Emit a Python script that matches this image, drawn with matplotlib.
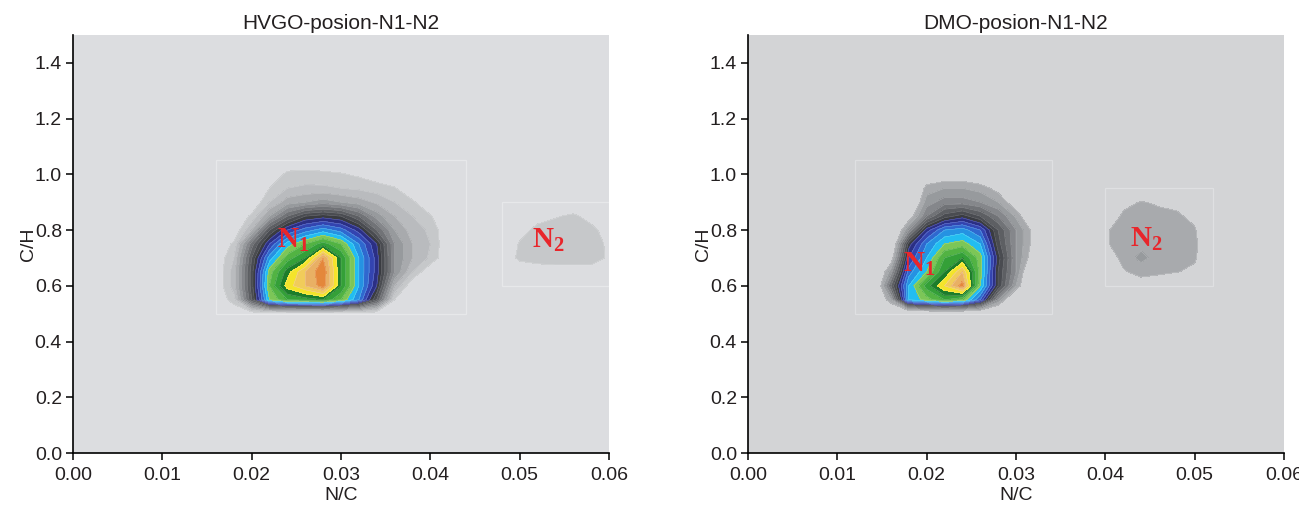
import numpy as np
import matplotlib.pyplot as plt
from matplotlib.patches import Rectangle

plt.rcParams['font.family'] = ['Liberation Sans', 'DejaVu Sans']
plt.rcParams['mathtext.fontset'] = 'custom'
plt.rcParams['mathtext.bf'] = 'Liberation Serif:bold'
plt.rcParams['mathtext.rm'] = 'Liberation Serif:bold'

# contour levels and the colour of each band (grey -> blue -> green -> yellow -> orange)
contour_levels = [1, 2, 3, 4, 5, 6, 7, 8, 9, 10, 11, 12, 13, 14, 15, 16, 17, 18, 19, 20, 21, 22, 23]
band_colors = ['#c6c8ca', '#b9bbbe', '#a8aaad', '#979a9d', '#85878b', '#717377',
               '#5d5f63', '#4a4c51', '#3a3c41', '#2b2f85', '#3344b0', '#2f68cf',
               '#2592e2', '#22bdf0', '#7cc657', '#52b343', '#34a038', '#1c7d2a',
               '#f4e42a', '#f1cc5a', '#e9b064', '#e4873b']

# ---- HVGO, N1 group
hvgo_n1_nc = [0.016, 0.018, 0.020, 0.022, 0.024, 0.026, 0.028, 0.030,
              0.032, 0.034, 0.036, 0.038, 0.040, 0.042, 0.044]
hvgo_n1_ch = [0.50, 0.55, 0.60, 0.65, 0.70, 0.75, 0.80, 0.85, 0.90, 0.95, 1.00, 1.05]
hvgo_n1_z = [
    [0, 0, 0, 0, 0, 0, 0, 0, 0, 0, 0, 0, 0, 0, 0],
    [0, 1.5, 8, 15, 17, 17.5, 18, 16, 13, 8, 1, 0, 0, 0, 0],
    [0, 2.5, 8.5, 16, 19.5, 21, 22.5, 18, 14, 10, 3, 0, 0, 0, 0],
    [0, 2.5, 8.5, 15.5, 18.5, 21, 22.8, 18, 14, 10.5, 5, 2, 0, 0, 0],
    [0, 2, 8, 13.5, 16.5, 18, 22, 18, 14, 10.5, 5, 3, 1.8, 0, 0],
    [0, 1.2, 6.5, 11, 14.5, 16, 17.5, 16, 13, 10, 5, 3, 2, 0, 0],
    [0, 0, 3, 8, 11, 12.5, 13.5, 12.5, 10.5, 7, 4, 2.5, 1.8, 0, 0],
    [0, 0, 1.2, 4, 7, 9, 9.5, 9, 7, 4.5, 3, 2, 1.1, 0, 0],
    [0, 0, 0, 2, 3.5, 4, 4.5, 4, 3.5, 2.8, 2, 1.2, 0, 0, 0],
    [0, 0, 0, 1, 2, 2.2, 2.2, 2, 1.8, 1.5, 1.1, 0, 0, 0, 0],
    [0, 0, 0, 0, 1.3, 1.4, 1.3, 1.1, 0.8, 0.3, 0, 0, 0, 0, 0],
    [0, 0, 0, 0, 0, 0, 0, 0, 0, 0, 0, 0, 0, 0, 0],
]

# ---- HVGO, N2 group
hvgo_n2_nc = [0.048, 0.050, 0.052, 0.054, 0.056, 0.058, 0.060]
hvgo_n2_ch = [0.60, 0.65, 0.70, 0.75, 0.80, 0.85, 0.90]
hvgo_n2_z = [
    [0, 0, 0, 0, 0, 0, 0],
    [0, 0, 0.3, 0.4, 0.4, 0.4, 0.3],
    [0, 1.3, 1.5, 1.6, 1.6, 1.6, 0.8],
    [0, 1.1, 1.5, 1.6, 1.6, 1.5, 0.8],
    [0, 0.6, 1.3, 1.5, 1.5, 1.3, 0.5],
    [0, 0, 0.6, 0.9, 1.2, 0.6, 0],
    [0, 0, 0, 0, 0, 0, 0],
]

# ---- DMO, N1 group
dmo_n1_nc = [0.012, 0.014, 0.016, 0.018, 0.020, 0.022, 0.024, 0.026,
             0.028, 0.030, 0.032, 0.034]
dmo_n1_ch = [0.50, 0.55, 0.60, 0.65, 0.70, 0.75, 0.80, 0.85, 0.90, 0.95, 1.00, 1.05]
dmo_n1_z = [
    [0, 0, 0, 0, 0, 0, 0, 0, 0, 0, 0, 0],
    [0, 0, 4, 14, 15.5, 17, 16, 12, 5, 0, 0, 0],
    [0, 0, 7, 14, 17.5, 20, 22.5, 15, 9, 4, 0, 0],
    [0, 0, 4.5, 12.5, 15, 18, 21, 15.5, 9, 5, 0, 0],
    [0, 0, 2, 11, 14, 17, 18, 15.5, 9.5, 5, 2, 0],
    [0, 0, 0.5, 9.5, 13, 15, 15.5, 14, 8.5, 5, 2.5, 0],
    [0, 0, 0, 5, 10.5, 13, 13.5, 12, 8, 5, 2.5, 0],
    [0, 0, 0, 2, 6, 8.5, 9.5, 8, 6, 3.8, 1, 0],
    [0, 0, 0, 0.5, 4.5, 5.5, 5.5, 5, 4, 2, 0, 0],
    [0, 0, 0, 0, 3.5, 4, 4, 3.6, 2.5, 1, 0, 0],
    [0, 0, 0, 0, 1.5, 2, 2, 1.5, 0.5, 0, 0, 0],
    [0, 0, 0, 0, 0, 0, 0, 0, 0, 0, 0, 0],
]

# ---- DMO, N2 group
dmo_n2_nc = [0.040, 0.042, 0.044, 0.046, 0.048, 0.050, 0.052]
dmo_n2_ch = [0.60, 0.65, 0.70, 0.75, 0.80, 0.85, 0.90, 0.95]
dmo_n2_z = [
    [0, 1, 2, 1.5, 0, 0, 0],
    [0, 2.8, 3.6, 3.4, 3.1, 2.5, 0],
    [1.5, 3.6, 4.2, 3.7, 3.6, 3.3, 0.5],
    [2.8, 3.7, 3.8, 3.7, 3.6, 3.4, 1],
    [2.8, 3.6, 3.7, 3.6, 3.5, 3.2, 0.5],
    [1.5, 3.3, 3.5, 3.4, 3.3, 2.5, 0],
    [0, 2.5, 3.1, 2.8, 2.5, 1, 0],
    [0, 0, 0, 0, 0, 0, 0],
]

x_ticks = [0.00, 0.01, 0.02, 0.03, 0.04, 0.05, 0.06]
x_ticklabels = ['0.00', '0.01', '0.02', '0.03', '0.04', '0.05', '0.06']
y_ticks = [0.0, 0.2, 0.4, 0.6, 0.8, 1.0, 1.2, 1.4]
y_ticklabels = ['0.0', '0.2', '0.4', '0.6', '0.8', '1.0', '1.2', '1.4']

panels = [
    {'title': 'HVGO-posion-N1-N2', 'bg': '#dcdde0', 'edge': '#e7e8ea', 'floor': 1,
     'groups': [(hvgo_n1_nc, hvgo_n1_ch, hvgo_n1_z), (hvgo_n2_nc, hvgo_n2_ch, hvgo_n2_z)],
     'labels': [('1', 0.0247, 0.765), ('2', 0.0532, 0.765)]},
    {'title': 'DMO-posion-N1-N2', 'bg': '#d3d4d6', 'edge': '#dfe0e2', 'floor': 3,
     'groups': [(dmo_n1_nc, dmo_n1_ch, dmo_n1_z), (dmo_n2_nc, dmo_n2_ch, dmo_n2_z)],
     'labels': [('1', 0.0192, 0.68), ('2', 0.0446, 0.768)]},
]

fig = plt.figure(figsize=(12.99, 5.07), dpi=100)
lefts = [73 / 1299, 748 / 1299]

for left, p in zip(lefts, panels):
    ax = fig.add_axes([left, 54 / 507, 536 / 1299, 418 / 507])
    ax.set_facecolor(p['bg'])

    i0 = contour_levels.index(p['floor'])
    levels = contour_levels[i0:]
    colors = band_colors[i0:]
    for nc, ch, z in p['groups']:
        z = np.array(z)
        ax.contourf(nc, ch, z, levels=levels, colors=colors)
        ax.contour(nc, ch, z, levels=levels, colors='white', linewidths=0.4, alpha=0.3)
        # faint outline of the data grid, as in the original software
        ax.add_patch(Rectangle((nc[0], ch[0]), nc[-1] - nc[0], ch[-1] - ch[0],
                               fill=False, ec=p['edge'], lw=0.9, zorder=0.5))

    for sub, x, y in p['labels']:
        ax.text(x, y, r'$\mathbf{N}_{\mathbf{' + sub + '}}$', color='#e8262b',
                fontsize=21, ha='center', va='center')

    ax.set_xlim(0, 0.06)
    ax.set_ylim(0, 1.5)
    ax.set_xticks(x_ticks)
    ax.set_xticklabels(x_ticklabels)
    ax.set_yticks(y_ticks)
    ax.set_yticklabels(y_ticklabels)
    ax.tick_params(direction='out', length=5, width=1.1, labelsize=14,
                   colors='black', labelcolor='#231f20', pad=3)
    ax.tick_params(axis='x', pad=5)
    for s in ['top', 'right']:
        ax.spines[s].set_visible(False)
    for s in ['left', 'bottom']:
        ax.spines[s].set_linewidth(1.2)
    ax.set_xlabel('N/C', fontsize=14, color='#231f20', labelpad=2)
    ax.set_ylabel('C/H', fontsize=14, color='#231f20', labelpad=-2)
    ax.set_title(p['title'], fontsize=15, color='#231f20', pad=4)

fig.savefig('out.png', dpi=100)
